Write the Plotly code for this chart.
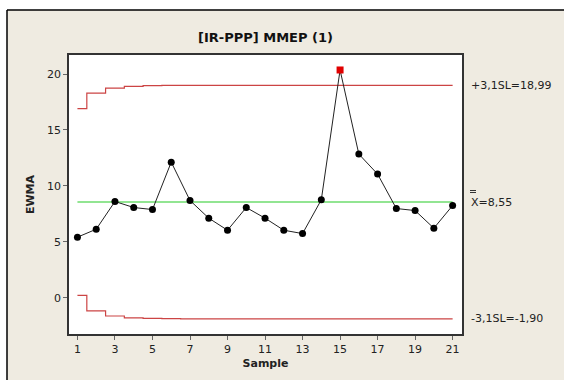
import plotly.graph_objects as go

samples = list(range(1, 22))
ewma = [5.41, 6.12, 8.60, 8.06, 7.88, 12.12, 8.69, 7.11, 6.03, 8.06, 7.11,
        6.03, 5.73, 8.75, 20.36, 12.84, 11.05, 7.97, 7.79, 6.21, 8.24]
ucl = [16.90, 18.29, 18.74, 18.90, 18.96, 18.98] + [18.99] * 15
lcl = [0.20, -1.19, -1.64, -1.80, -1.86, -1.88, -1.89] + [-1.90] * 14
center = 8.55
xticks = list(range(1, 22, 2))
yticks = [0, 5, 10, 15, 20]
title = "[IR-PPP] MMEP (1)"
ucl_label = "+3,1SL=18,99"
cl_label = "X=8,55"
lcl_label = "-3,1SL=-1,90"

W, H = 564, 380
ml, mr, mt, mb = 69, 102, 55, 46
pw, ph = W - ml - mr, H - mt - mb
def px(x):
    return (x - ml) / pw
def py(y):
    return (H - mb - y) / ph

FONT = "DejaVu Sans"
out_idx = 14
colors = ["#000000"] * len(ewma)
symbols = ["circle"] * len(ewma)
colors[out_idx] = "#E00000"
symbols[out_idx] = "square"

fig = go.Figure()
fig.add_trace(go.Scatter(x=samples, y=ucl, mode="lines", line=dict(color="#CC4444", width=1.2, shape="hvh"), hoverinfo="skip"))
fig.add_trace(go.Scatter(x=samples, y=lcl, mode="lines", line=dict(color="#CC4444", width=1.2, shape="hvh"), hoverinfo="skip"))
fig.add_trace(go.Scatter(x=[samples[0], samples[-1]], y=[center, center], mode="lines", line=dict(color="#6EDC6E", width=1.6), hoverinfo="skip"))
fig.add_trace(go.Scatter(x=samples, y=ewma, mode="lines+markers", line=dict(color="#222222", width=1),
                         marker=dict(color=colors, symbol=symbols, size=7)))

shapes = [
    dict(type="rect", xref="paper", yref="paper", x0=px(7), x1=px(W + 20), y0=py(H + 20), y1=py(10),
         fillcolor="#EFEBE1", line=dict(width=0), layer="below"),
    dict(type="line", xref="paper", yref="paper", x0=px(7), x1=px(W + 20), y0=py(10), y1=py(10),
         line=dict(color="#000000", width=1.5), layer="below"),
    dict(type="line", xref="paper", yref="paper", x0=px(7), x1=px(7), y0=py(10), y1=py(H + 20),
         line=dict(color="#000000", width=1.5), layer="below"),
    dict(type="rect", xref="x domain", yref="y domain", x0=0, x1=1, y0=0, y1=1,
         fillcolor="#FFFFFF", line=dict(width=0), layer="below"),
    # double bar over the X of the centre-line label
    dict(type="line", xref="paper", yref="paper", x0=px(470), x1=px(476), y0=py(190.5), y1=py(190.5),
         line=dict(color="#333333", width=1)),
    dict(type="line", xref="paper", yref="paper", x0=px(470), x1=px(476), y0=py(192.5), y1=py(192.5),
         line=dict(color="#333333", width=1)),
]

annotations = [
    dict(text=title, xref="paper", yref="paper", x=0.5, y=py(37), xanchor="center", yanchor="middle",
         showarrow=False, font=dict(family=FONT, size=13, color="#111111", weight="bold")),
    dict(text=ucl_label, xref="paper", yref="y", x=px(469), y=ucl[-1], xanchor="left", yanchor="middle",
         showarrow=False, font=dict(family=FONT, size=11, color="#222222")),
    dict(text=cl_label, xref="paper", yref="y", x=px(469), y=center, xanchor="left", yanchor="middle",
         showarrow=False, font=dict(family=FONT, size=11, color="#222222")),
    dict(text=lcl_label, xref="paper", yref="y", x=px(469), y=lcl[-1], xanchor="left", yanchor="middle",
         showarrow=False, font=dict(family=FONT, size=11, color="#222222")),
]

fig.update_layout(
    width=W, height=H, margin=dict(l=ml, r=mr, t=mt, b=mb),
    paper_bgcolor="#FFFFFF", plot_bgcolor="#FFFFFF", showlegend=False,
    shapes=shapes, annotations=annotations,
    font=dict(family=FONT, size=11, color="#222222"),
    xaxis=dict(range=[0.55, 21.5], tickvals=xticks, ticks="outside", ticklen=4, tickcolor="#666666",
               showgrid=False, zeroline=False, showline=True, mirror=True, linecolor="#333333", linewidth=1.5,
               title=dict(text="<b>Sample</b>", font=dict(family=FONT, size=11), standoff=4)),
    yaxis=dict(range=[-3.25, 21.7], tickvals=yticks, ticks="outside", ticklen=4, tickcolor="#666666",
               showgrid=False, zeroline=False, showline=True, mirror=True, linecolor="#333333", linewidth=1.5,
               title=dict(text="<b>EWMA</b>", font=dict(family=FONT, size=11), standoff=10)),
)

fig.write_html("out.html", config={"displayModeBar": False},
               post_script="document.body.style.margin='0';document.body.style.overflow='hidden';")
